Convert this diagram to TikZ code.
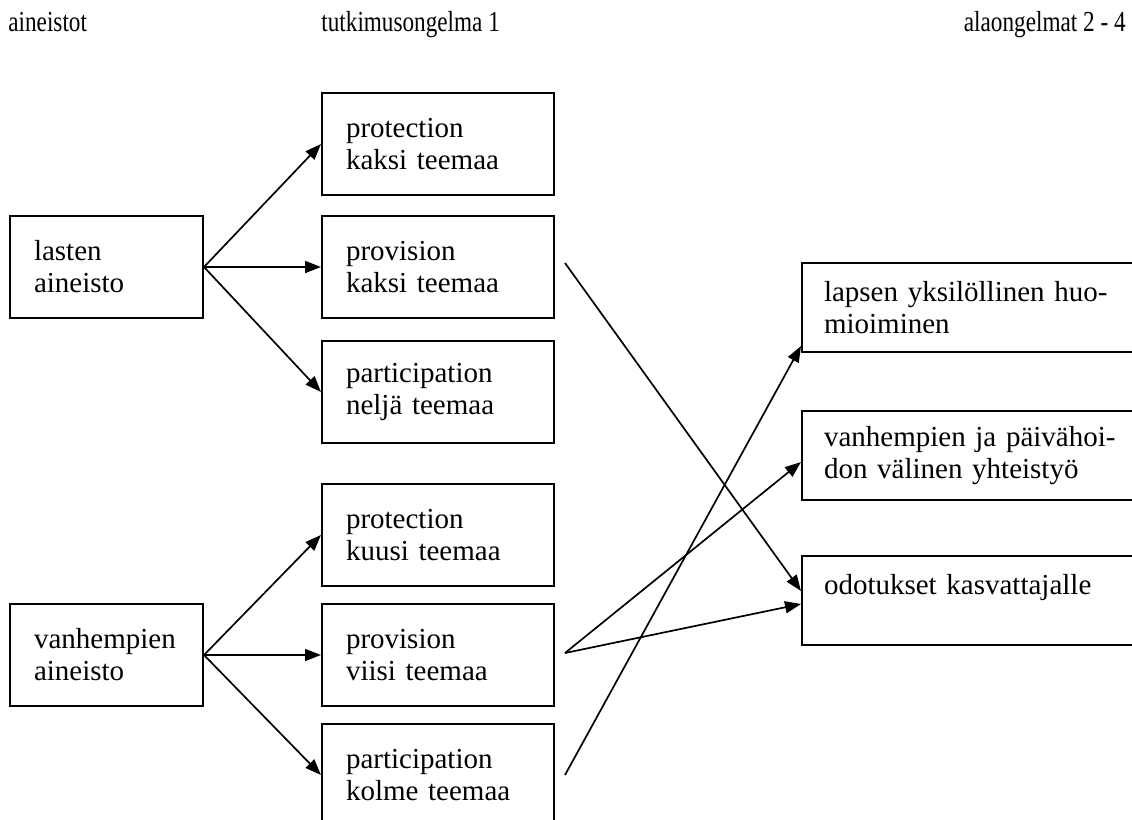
\documentclass[tikz,border=0pt]{standalone}
\usepackage{fontspec}
\setmainfont{Liberation Serif}
\usepackage{graphicx}
\usetikzlibrary{arrows.meta}

\tikzset{
  box/.style={draw, line width=1pt, anchor=north west, align=left, inner ysep=0pt,
    font=\fontsize{14.5pt}{16pt}\selectfont},
  srcbox/.style={box, inner xsep=12pt, text width=72.5pt, minimum height=51pt},
  midbox/.style={box, inner xsep=12pt, text width=92pt, minimum height=51pt},
  subbox/.style={box, inner xsep=11pt, text width=152pt, minimum height=44.5pt},
  head/.style={inner sep=0pt, font=\fontsize{14.5pt}{16pt}\selectfont},
  link/.style={line width=0.85pt, -{Triangle[length=8pt,width=6pt]}},
}

\begin{document}
\begin{tikzpicture}[x=0.5pt,y=-0.5pt]

\clip (0,0) rectangle (1132,820);

% Otsikot
\node[head, anchor=base west] (hdata) at (8,31) {\scalebox{0.8}[1]{aineistot}};
\node[head, anchor=base west] (hmain) at (321,31) {\scalebox{0.8}[1]{tutkimusongelma 1}};
\node[head, anchor=base east] (hsub) at (1126,31) {\scalebox{0.8}[1]{alaongelmat 2 - 4}};

% Aineistot
\node[srcbox] (lasten) at (9,215) {lasten\\aineisto};
\node[srcbox] (vanh) at (9,603) {vanhempien\\aineisto};

% Tutkimusongelma 1
\node[midbox] (lprot) at (321,92) {protection\\kaksi teemaa};
\node[midbox] (lprov) at (321,215) {provision\\kaksi teemaa};
\node[midbox] (lpart) at (321,340) {participation\\neljä teemaa};
\node[midbox] (vprot) at (321,483) {protection\\kuusi teemaa};
\node[midbox] (vprov) at (321,603) {provision\\viisi teemaa};
\node[midbox] (vpart) at (321,723) {participation\\kolme teemaa};

% Alaongelmat
\node[subbox] (yksil) at (801,262) {lapsen yksilöllinen huo-\\mioiminen};
\node[subbox] (yhteis) at (801,410) {vanhempien ja päivähoi-\\don välinen yhteistyö};
\node[subbox] (odot) at (801,555) {odotukset kasvattajalle\\\mbox{}};

% Nuolet
\draw[link] (lasten.east) -- (lprot.west);
\draw[link] (lasten.east) -- (lprov.west);
\draw[link] (lasten.east) -- (lpart.west);
\draw[link] (vanh.east) -- (vprot.west);
\draw[link] (vanh.east) -- (vprov.west);
\draw[link] (vanh.east) -- (vpart.west);

\draw[link] ([xshift=5pt,yshift=2pt]lprov.east) -- ([yshift=4.75pt]odot.west);
\draw[link] ([xshift=5pt,yshift=1pt]vprov.east) -- ([yshift=-3.25pt]yhteis.west);
\draw[link] ([xshift=5pt,yshift=1pt]vprov.east) -- ([yshift=-1.75pt]odot.west);
\draw[link] ([xshift=5pt]vpart.east) -- ([yshift=3.5pt]yksil.south west);

\end{tikzpicture}
\end{document}
